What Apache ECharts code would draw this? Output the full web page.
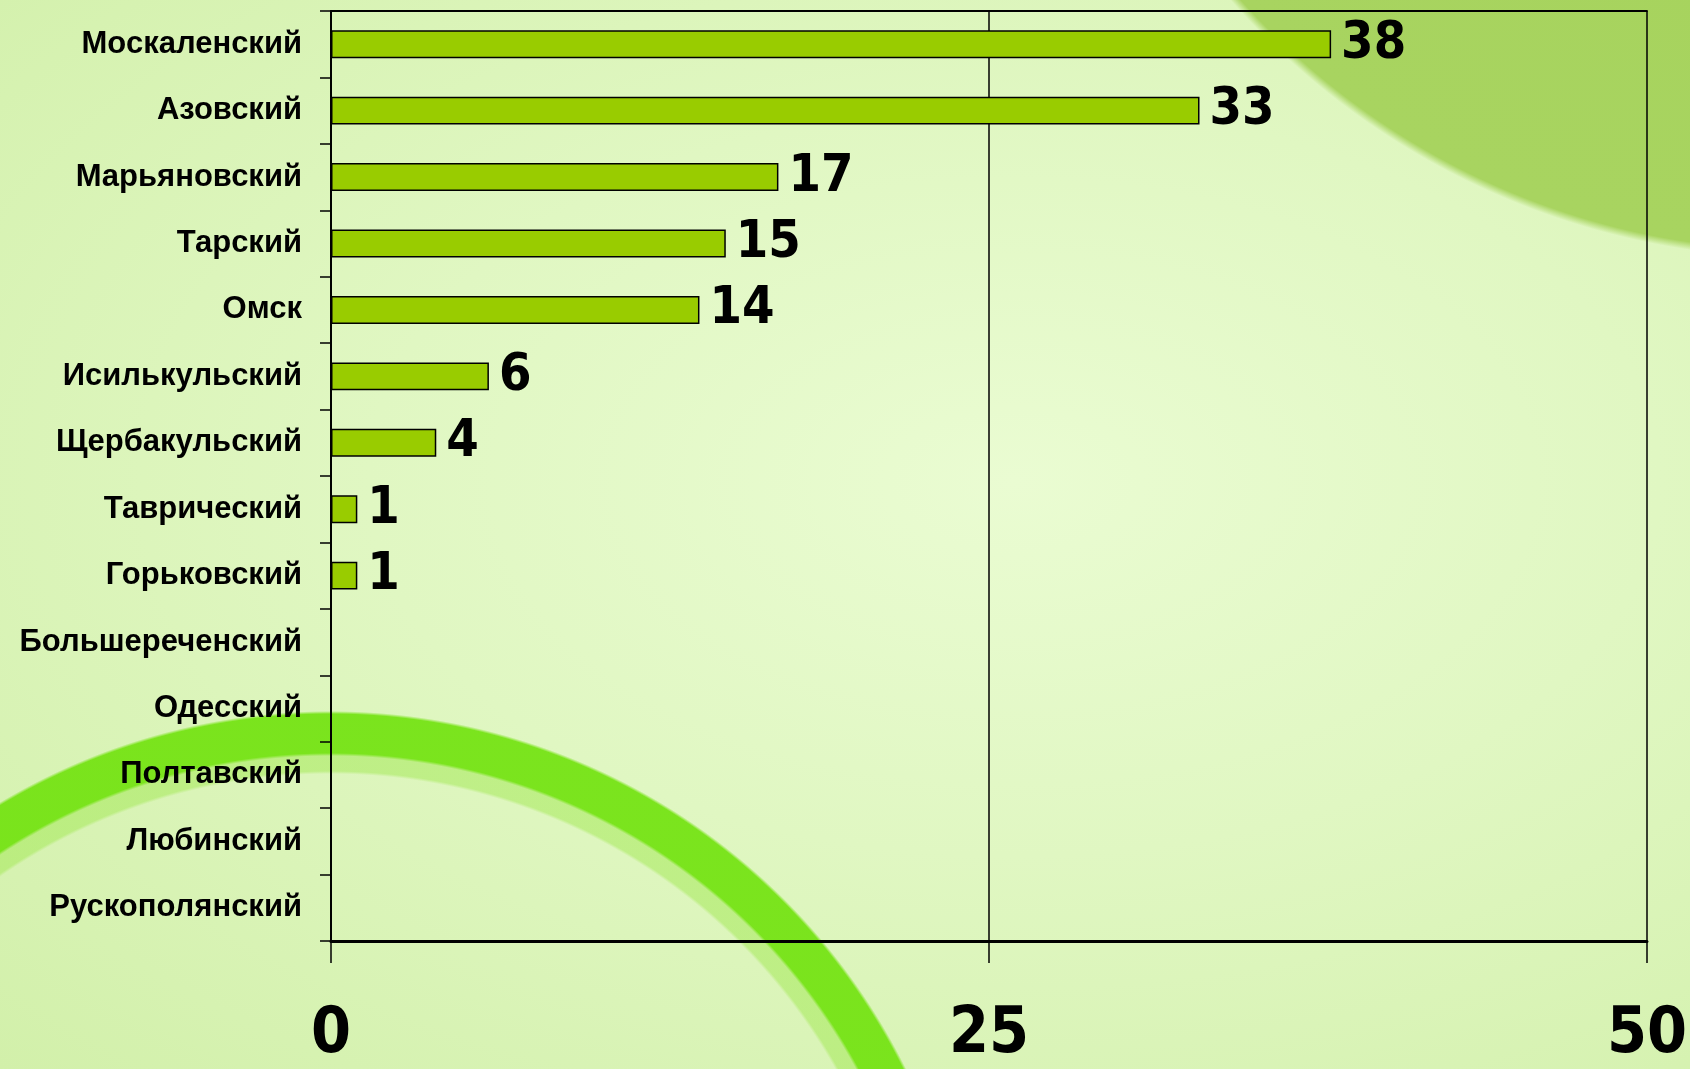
<!DOCTYPE html>
<html>
<head>
<meta charset="utf-8">
<script src="https://cdn.jsdelivr.net/npm/echarts@6/dist/echarts.min.js"></script>
<style>
  html, body { margin: 0; padding: 0; }
  body {
    width: 1690px; height: 1069px; overflow: hidden;
    background:
      radial-gradient(circle at 1800px -500px, #a5d25a 0, #a8d460 750px, rgba(168,212,96,0) 758px),
      radial-gradient(circle at 330px 1354px, rgba(0,0,0,0) 580px, rgba(160,232,80,0.5) 583px, rgba(160,232,80,0.5) 598px, rgba(112,226,12,0.9) 601px, rgba(112,226,12,0.9) 640px, rgba(0,0,0,0) 643px),
      radial-gradient(ellipse at 60% 45%, #eafcd2 0, #e0f7c2 45%, #d2f0aa 100%);
  }
  #chart { width: 1690px; height: 1069px; }
</style>
</head>
<body>
<div id="chart"></div>
<script>
// районы, сверху вниз
var districts = ['Москаленский', 'Азовский', 'Марьяновский', 'Тарский', 'Омск', 'Исилькульский',
  'Щербакульский', 'Таврический', 'Горьковский', 'Большереченский', 'Одесский', 'Полтавский',
  'Любинский', 'Рускополянский']
var counts = [38, 33, 17, 15, 14, 6, 4, 1, 1, 0, 0, 0, 0, 0]
var xTicks = [0, 25, 50]

var chart = echarts.init(document.getElementById('chart'))

chart.setOption({
  backgroundColor: 'transparent',
  animation: false,
  grid: {
    left: 331,
    right: 40,
    top: 11,
    bottom: 128
  },
  xAxis: [{
    type: 'value',
    min: xTicks[0],
    max: xTicks[xTicks.length - 1],
    interval: xTicks[1] - xTicks[0],
    axisLine: { show: true, lineStyle: { color: '#000', width: 3 } },
    axisTick: { show: true, inside: false, length: 22, lineStyle: { color: '#000', width: 1.5 } },
    splitLine: { show: true, lineStyle: { color: '#000', width: 1.5 } },
    axisLabel: {
      margin: 62,
      color: '#000',
      fontFamily: '"Liberation Sans Narrow", "DejaVu Sans Condensed", sans-serif',
      fontWeight: 'bold',
      fontSize: 64
    }
  }, {
    // верхняя рамка
    type: 'value',
    position: 'top',
    min: xTicks[0],
    max: xTicks[xTicks.length - 1],
    axisLine: { show: true, lineStyle: { color: '#000', width: 2 } },
    axisTick: { show: false },
    splitLine: { show: false },
    axisLabel: { show: false }
  }],
  yAxis: {
    type: 'category',
    inverse: true,
    data: districts,
    axisLine: { show: true, lineStyle: { color: '#000', width: 2 } },
    axisTick: { show: true, length: 11, lineStyle: { color: '#000', width: 1.5 } },
    axisLabel: {
      margin: 29,
      color: '#000',
      fontFamily: '"Liberation Sans", Arial, sans-serif',
      fontWeight: 'bold',
      fontSize: 31
    }
  },
  series: [{
    type: 'bar',
    xAxisIndex: 0,
    data: counts,
    barWidth: '42%',
    itemStyle: {
      color: '#99cc00',
      borderColor: '#000',
      borderWidth: 1.5
    },
    label: {
      show: true,
      position: 'right',
      distance: 10,
      color: '#000',
      fontFamily: '"Liberation Sans Narrow", "DejaVu Sans Condensed", sans-serif',
      fontWeight: 'bold',
      fontSize: 52,
      formatter: function (p) { return p.value ? String(p.value) : '' }
    }
  }]
})
</script>
</body>
</html>
